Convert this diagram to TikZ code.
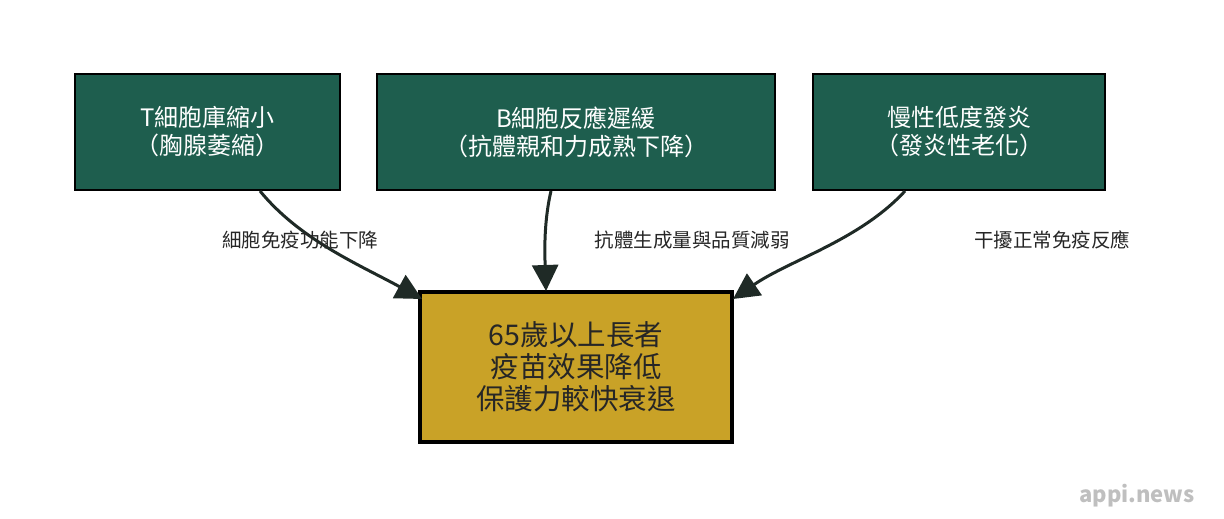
\documentclass[tikz,border=0pt]{standalone}
\usepackage{fontspec}
\setmainfont{Noto Sans CJK TC}
\usetikzlibrary{arrows.meta}
\definecolor{gbox}{HTML}{1E5E4E}
\definecolor{ybox}{HTML}{C9A227}
\definecolor{edge}{HTML}{1F2A26}
\begin{document}
\begin{tikzpicture}[x=1pt,y=-1pt,
 top/.style={draw=black,line width=2pt,fill=gbox,text=white,align=center,font=\fontsize{24}{28}\selectfont,inner sep=0pt},
 conn/.style={draw=edge,line width=3pt,-{Triangle[length=26pt,width=26pt]}},
 lab/.style={font=\fontsize{19.5}{23}\selectfont,text=black!85}]
\useasboundingbox (0,0) rectangle (1224,519);
\node[top,minimum width=265pt,minimum height=116pt] (a) at (207.5,132) {T細胞庫縮小\\（胸腺萎縮）};
\node[top,minimum width=398pt,minimum height=116pt] (b) at (576,132) {B細胞反應遲緩\\（抗體親和力成熟下降）};
\node[top,minimum width=292pt,minimum height=116pt] (c) at (959,132) {慢性低度發炎\\（發炎性老化）};
\node[draw=black,line width=4pt,fill=ybox,text=black!85,align=center,font=\fontsize{28.5}{32}\selectfont,minimum width=312pt,minimum height=150pt,inner sep=0pt] (d) at (576,367) {65歲以上長者\\疫苗效果降低\\保護力較快衰退};
\coordinate (a1) at (260,191); \coordinate (d1) at (422,299);
\coordinate (b1) at (551,191); \coordinate (d2) at (546,291);
\coordinate (c1) at (905,191); \coordinate (d3) at (733,299);
\draw[conn] (a1) .. controls (300,240) and (360,265) .. (d1);
\draw[conn] (b1) .. controls (543,225) and (545,260) .. (d2);
\draw[conn] (c1) .. controls (860,240) and (790,260) .. (d3);
\node[lab] (la) at (300,240) {細胞免疫功能下降};
\node[lab] (lb) at (692,240) {抗體生成量與品質減弱};
\node[lab] (lc) at (1052,240) {干擾正常免疫反應};
\node[font=\fontsize{22}{26}\selectfont\bfseries,text=black!25] (w) at (1137,496) {appi.news};
\end{tikzpicture}
\end{document}
